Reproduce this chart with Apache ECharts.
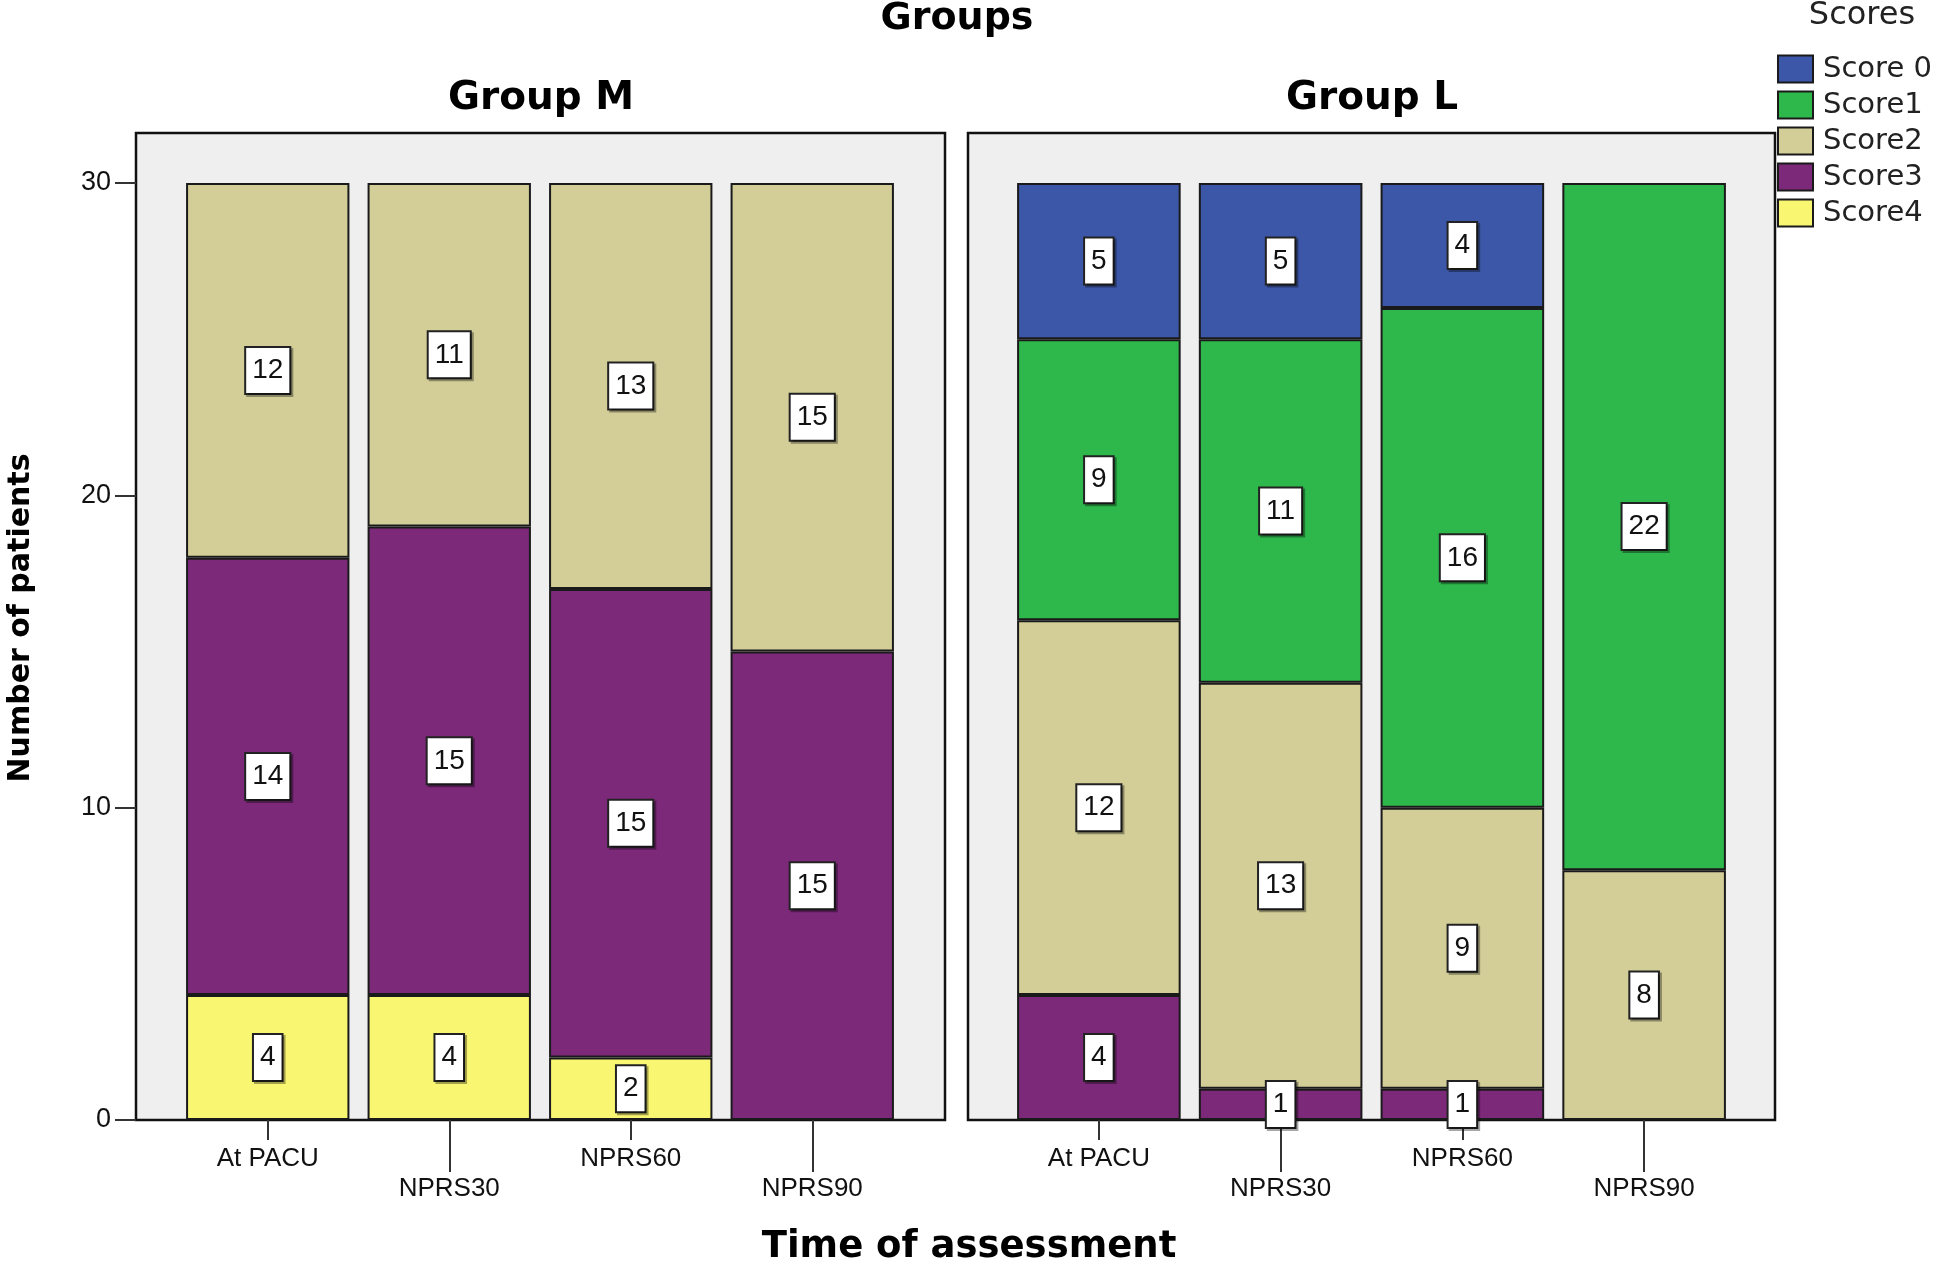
<!DOCTYPE html>
<html>
<head>
<meta charset="utf-8">
<title>Groups - Scores</title>
<script src="https://cdn.jsdelivr.net/npm/echarts@6/dist/echarts.min.js"></script>
<style>
    html, body { margin: 0; padding: 0; background: #fff; }
    #main { width: 1944px; height: 1266px; }
</style>
</head>
<body>
<div id="main"></div>
<script>
// 横轴类别
let categories = ['At PACU', 'NPRS30', 'NPRS60', 'NPRS90'];
// 图例名称（自上而下）
let scoreNames = ['Score 0', 'Score1', 'Score2', 'Score3', 'Score4'];
let scoreColors = ['#3d57a8', '#2eb74b', '#d3ce98', '#7c2979', '#f9f671'];
// y轴刻度
let yTicks = [0, 10, 20, 30];

// Group M 各分数人数
let mScore0 = [0, 0, 0, 0];
let mScore1 = [0, 0, 0, 0];
let mScore2 = [12, 11, 13, 15];
let mScore3 = [14, 15, 15, 15];
let mScore4 = [4, 4, 2, 0];

// Group L 各分数人数
let lScore0 = [5, 5, 4, 0];
let lScore1 = [9, 11, 16, 22];
let lScore2 = [12, 13, 9, 8];
let lScore3 = [4, 1, 1, 0];
let lScore4 = [0, 0, 0, 0];

let txtFont = 'Liberation Sans, Arial, sans-serif';
let boldFont = 'DejaVu Sans, Verdana, sans-serif';

let myChart = echarts.init(document.getElementById('main'));

// 0 不画
function noZero(arr) {
    return arr.map(function (v) { return v === 0 ? '-' : v; });
}

// 生成一组堆叠柱（底部 Score4 在前）
function makeSeries(groupData, xIdx, yIdx, stackName) {
    let list = [];
    for (let i = groupData.length - 1; i >= 0; i--) {
        list.push({
            name: scoreNames[i],
            type: 'bar',
            stack: stackName,
            xAxisIndex: xIdx,
            yAxisIndex: yIdx,
            barCategoryGap: '10%',
            itemStyle: {
                color: scoreColors[i],
                borderColor: '#1a1a1a',
                borderWidth: 2
            },
            label: {
                show: true,
                position: 'inside',
                formatter: '{c}',
                fontFamily: txtFont,
                fontSize: 28,
                lineHeight: 29,
                color: '#111',
                backgroundColor: '#fff',
                borderColor: '#222',
                borderWidth: 2,
                padding: [9, 6, 7, 6],
                shadowColor: 'rgba(0,0,0,0.35)',
                shadowOffsetX: 2,
                shadowOffsetY: 2
            },
            emphasis: { disabled: true },
            data: noZero(groupData[i])
        });
    }
    return list;
}

// 面板背景
function frameGrid(left, width) {
    return {
        left: left, top: 133, width: width, height: 987,
        show: true,
        backgroundColor: '#efefef',
        borderColor: '#111',
        borderWidth: 2.5
    };
}

// 主轴：短刻度 + 交错标签
function mainXAxis(gridIdx) {
    return {
        type: 'category',
        gridIndex: gridIdx,
        position: 'bottom',
        data: categories,
        axisLine: { show: false },
        axisTick: {
            show: true,
            alignWithLabel: true,
            length: 20,
            interval: function (i) { return i % 2 === 0; },
            lineStyle: { color: '#333', width: 2 }
        },
        axisLabel: {
            interval: 0,
            margin: 24,
            fontFamily: txtFont,
            fontSize: 26,
            lineHeight: 30,
            color: '#111',
            formatter: function (v, i) { return i % 2 ? '\n' + v : v; }
        },
        splitLine: { show: false }
    };
}

// 辅轴：长刻度
function longTickAxis(gridIdx) {
    return {
        type: 'category',
        gridIndex: gridIdx,
        position: 'bottom',
        data: categories,
        axisLine: { show: false },
        axisLabel: { show: false },
        axisTick: {
            show: true,
            alignWithLabel: true,
            length: 52,
            interval: function (i) { return i % 2 === 1; },
            lineStyle: { color: '#333', width: 2 }
        },
        splitLine: { show: false }
    };
}

function hiddenAxis(gridIdx) {
    return { type: 'value', gridIndex: gridIdx, show: false, min: 0, max: 1 };
}

function dataYAxis(gridIdx, visible) {
    return {
        type: 'value',
        gridIndex: gridIdx,
        show: visible,
        min: yTicks[0],
        max: yTicks[yTicks.length - 1],
        interval: 10,
        offset: 41,
        axisLine: { show: false },
        axisTick: { show: true, length: 21, lineStyle: { color: '#333', width: 2 } },
        axisLabel: {
            margin: 25,
            fontFamily: txtFont,
            fontSize: 27,
            color: '#111'
        },
        splitLine: { show: false }
    };
}

let option = {
    backgroundColor: '#fff',
    animation: false,
    grid: [
        frameGrid(136, 809),   // 左面板
        frameGrid(968, 807),   // 右面板
        { left: 177, top: 183, width: 726, height: 937 },
        { left: 1008, top: 183, width: 727, height: 937 }
    ],
    xAxis: [
        hiddenAxis(0),
        hiddenAxis(1),
        mainXAxis(2),
        longTickAxis(2),
        mainXAxis(3),
        longTickAxis(3)
    ],
    yAxis: [
        hiddenAxis(0),
        hiddenAxis(1),
        dataYAxis(2, true),
        dataYAxis(3, false)
    ],
    legend: {
        data: scoreNames,
        orient: 'vertical',
        left: 1777,
        top: 54,
        padding: 0,
        itemWidth: 35,
        itemHeight: 27,
        itemGap: 6,
        icon: 'rect',
        selectedMode: false,
        textStyle: {
            fontFamily: boldFont,
            fontSize: 29,
            lineHeight: 30,
            color: '#222',
            padding: [0, 0, 0, 5]
        }
    },
    graphic: [
        { type: 'text', x: 957, y: 19, style: { text: 'Groups', font: 'bold 38px ' + boldFont, fill: '#000', textAlign: 'center', textVerticalAlign: 'middle' } },
        { type: 'text', x: 541, y: 99, style: { text: 'Group M', font: 'bold 39px ' + boldFont, fill: '#000', textAlign: 'center', textVerticalAlign: 'middle' } },
        { type: 'text', x: 1372, y: 99, style: { text: 'Group L', font: 'bold 39px ' + boldFont, fill: '#000', textAlign: 'center', textVerticalAlign: 'middle' } },
        { type: 'text', x: 1862, y: 16, style: { text: 'Scores', font: '32px ' + boldFont, fill: '#222', textAlign: 'center', textVerticalAlign: 'middle' } },
        { type: 'text', x: 969, y: 1247, style: { text: 'Time of assessment', font: 'bold 37px ' + boldFont, fill: '#000', textAlign: 'center', textVerticalAlign: 'middle' } },
        { type: 'text', x: 21, y: 618, rotation: Math.PI / 2, style: { text: 'Number of patients', font: 'bold 30px ' + boldFont, fill: '#000', textAlign: 'center', textVerticalAlign: 'middle' } }
    ],
    series: makeSeries([mScore0, mScore1, mScore2, mScore3, mScore4], 2, 2, 'M')
        .concat(makeSeries([lScore0, lScore1, lScore2, lScore3, lScore4], 4, 3, 'L'))
};

myChart.setOption(option);
</script>
</body>
</html>
